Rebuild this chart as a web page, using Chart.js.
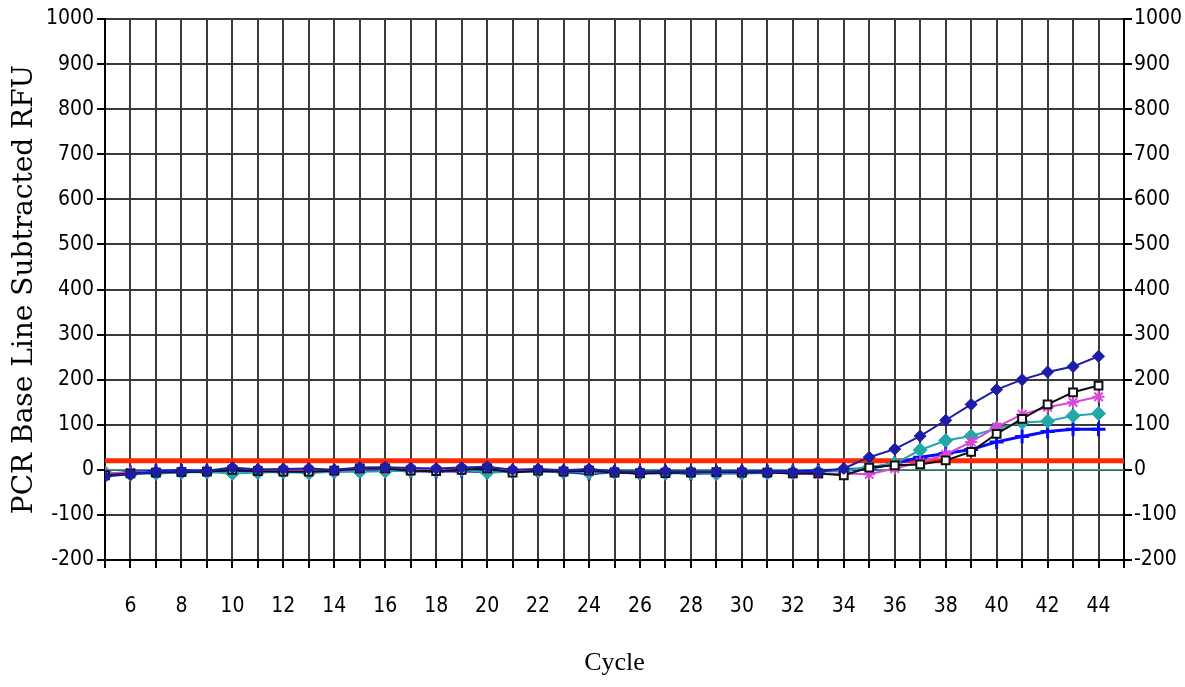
<!DOCTYPE html>
<html>
<head>
<meta charset="utf-8">
<script src="https://cdn.jsdelivr.net/npm/chart.js@4"></script>
<style>
  html, body { margin: 0; padding: 0; background: #fff; }
  #wrap { width: 1185px; height: 687px; }
</style>
</head>
<body>
<div id="wrap"><canvas id="pcr" width="1185" height="687"></canvas></div>
<script>
/* ---------- DATA ---------- */
const cycles = [5,6,7,8,9,10,11,12,13,14,15,16,17,18,19,20,21,22,23,24,
                25,26,27,28,29,30,31,32,33,34,35,36,37,38,39,40,41,42,43,44];

const navySeries = [-15,-10,-4,-3,-2,5,1,2,3,0, 5,6,4,3,5,7,0,2,-1,2,
                    -3,-5,-3,-4,-4,-3,-5,-5,-5,3, 28,46,75,110,145,178,200,217,229,252];
const blackSeries = [-12,-8,-6,-5,-4,0,-3,-4,-4,-2, 3,3,-2,-3,0,3,-6,-2,-4,-2,
                     -6,-8,-7,-6,-5,-6,-6,-8,-8,-12, 5,10,12,21,40,80,113,145,172,187];
const magentaSeries = [-8,-6,-5,-4,-3,2,-1,0,0,-2, 2,3,1,0,2,4,-2,0,-3,-1,
                       -4,-6,-5,-5,-6,-5,-6,-8,-10,-8, -10,3,17,34,62,95,123,139,150,162];
const tealSeries = [-6,-10,-8,-6,-5,-8,-6,-5,-7,-4, -4,-3,-2,-2,0,-6,-4,-3,-5,-6,
                    -6,-7,-8,-7,-9,-8,-7,-6,-5,-2, 6,14,44,65,75,92,105,108,120,125];
const blueSeries = [-10,-6,-3,-2,-3,-1,-2,-2,-1,-3, -1,0,-2,-3,-2,-4,-3,-2,-4,-8,
                    -5,-7,-4,-8,-6,-5,-4,-4,-2,0, 3,14,28,36,45,62,74,85,90,90];

const thresholdValue = 20;
const xRange = [5, 45];
const yRange = [-200, 1000];
const xTickLabels = [6,8,10,12,14,16,18,20,22,24,26,28,30,32,34,36,38,40,42,44];
const yTickLabels = [-200,-100,0,100,200,300,400,500,600,700,800,900,1000];

/* ---------- HELPERS ---------- */
function pts(values) {
  return cycles.map((c, i) => ({ x: c, y: values[i] }));
}
function flat(v) {
  return [{ x: xRange[0], y: v }, { x: xRange[1], y: v }];
}

const tickFont = { family: "'DejaVu Sans Condensed', 'Liberation Sans', sans-serif", size: 21 };

/* ---------- CHART ---------- */
new Chart(document.getElementById("pcr"), {
  type: "line",
  data: {
    datasets: [
      { data: pts(navySeries), borderColor: "#1c1ca8", backgroundColor: "#1c1ca8",
        borderWidth: 2, pointStyle: "rectRot", pointRadius: 6, pointBorderWidth: 1 },
      { data: pts(blackSeries), borderColor: "#101010", backgroundColor: "#ffffff",
        borderWidth: 2, pointStyle: "rect", pointRadius: 5.5, pointBorderWidth: 2 },
      { data: pts(magentaSeries), borderColor: "#d848d8", backgroundColor: "#d848d8",
        borderWidth: 2, pointStyle: "star", pointRadius: 6, pointBorderWidth: 2 },
      { data: pts(tealSeries), borderColor: "#22a8a8", backgroundColor: "#22a8a8",
        borderWidth: 2, pointStyle: "rectRot", pointRadius: 7, pointBorderWidth: 1 },
      { data: pts(blueSeries), borderColor: "#0a0aff", backgroundColor: "#0a0aff",
        borderWidth: 3, pointStyle: "cross", pointRadius: 7, pointBorderWidth: 3 },
      { data: flat(thresholdValue), borderColor: "#ff2a00", borderWidth: 5, pointRadius: 0 },
      { data: flat(0), borderColor: "#3c9a90", borderWidth: 1.5, pointRadius: 0 }
    ]
  },
  options: {
    responsive: false,
    animation: false,
    layout: { padding: { top: 19, left: 0, right: 0, bottom: 0 } },
    plugins: { legend: { display: false }, tooltip: { enabled: false } },
    scales: {
      x: {
        type: "linear", min: xRange[0], max: xRange[1],
        afterFit: s => { s.height = 127; },
        afterBuildTicks: s => { s.ticks = cycles.concat([45]).map(v => ({ value: v })); },
        ticks: {
          autoSkip: false, maxRotation: 0, padding: 26, color: "#000", font: tickFont,
          callback: v => xTickLabels.includes(v) ? String(v) : ""
        },
        grid: { color: "#3a3a3a", lineWidth: 2, tickLength: 8, tickColor: "#000" },
        border: { color: "#000", width: 2 },
        title: { display: true, text: "Cycle", color: "#000",
                 font: { family: "'Liberation Serif', serif", size: 26 },
                 padding: { top: 0, bottom: 8 } }
      },
      y: {
        position: "left", min: yRange[0], max: yRange[1],
        afterFit: s => { s.width = 105; },
        afterBuildTicks: s => { s.ticks = yTickLabels.map(v => ({ value: v })); },
        ticks: { color: "#000", font: tickFont, padding: 3, callback: v => String(v) },
        grid: { color: "#3a3a3a", lineWidth: 2, tickLength: 8, tickColor: "#000" },
        border: { color: "#000", width: 2 },
        title: { display: true, text: "PCR Base Line Subtracted RFU", color: "#000",
                 font: { family: "'DejaVu Serif', serif", size: 28 },
                 padding: { top: 8, bottom: 0 } }
      },
      y2: {
        position: "right", min: yRange[0], max: yRange[1],
        afterFit: s => { s.width = 61; },
        afterBuildTicks: s => { s.ticks = yTickLabels.map(v => ({ value: v })); },
        ticks: { color: "#000", font: tickFont, padding: 2, callback: v => String(v) },
        grid: { drawOnChartArea: false, tickLength: 8, tickColor: "#000", lineWidth: 2 },
        border: { color: "#000", width: 2 }
      }
    }
  }
});
</script>
</body>
</html>
